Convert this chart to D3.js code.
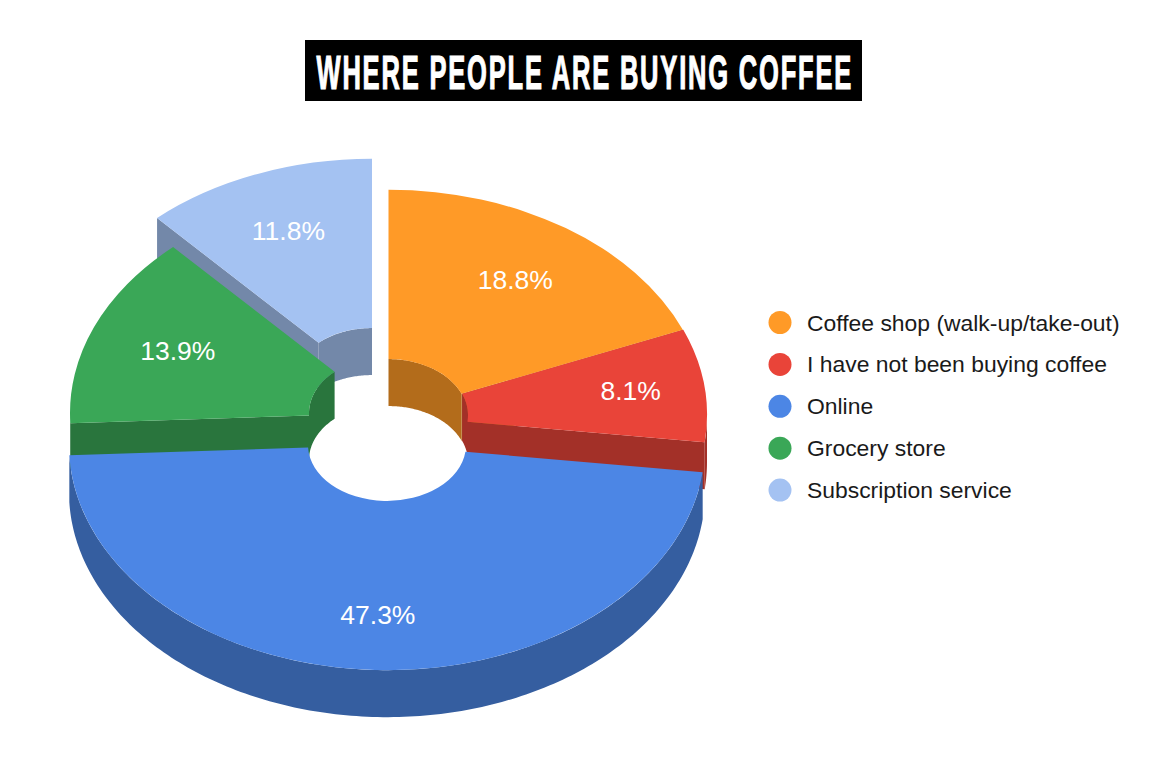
<!DOCTYPE html>
<html>
<head>
<meta charset="utf-8">
<script src="https://cdn.jsdelivr.net/npm/d3@7"></script>
<style>
  html, body { margin: 0; padding: 0; background: #fff; }
  text { font-family: "Liberation Sans", Arial, sans-serif; }
</style>
</head>
<body>
<div id="chart"></div>
<script>
var titleText = "WHERE PEOPLE ARE BUYING COFFEE";
var categories = ["Coffee shop (walk-up/take-out)", "I have not been buying coffee", "Online", "Grocery store", "Subscription service"];
var shares = [18.8, 8.1, 47.3, 13.9, 11.8];
var colors = ["#ff9a27", "#e94439", "#4c86e5", "#3aa757", "#a4c2f2"];

// each slice was pulled away by hand in the original, so each has its own shift
var shiftX = [1.5, 2, 0, 1, -15];
var shiftY = [-30, -30, 0, -32, -61];
var labelRadius = [0.715, 0.767, 0.76, 0.715, 0.725];
var drawOrder = [4, 3, 0, 1, 2]; // back to front

var width = 1170, height = 780;
var cx = 387, cy = 445;
var outerX = 318, innerX = 79;
var tilt = 0.708;
var depth = 47;
var TAU = Math.PI * 2;

var svg = d3.select("#chart").append("svg")
    .attr("width", width)
    .attr("height", height);

// Title
svg.append("rect")
    .attr("x", 305).attr("y", 40)
    .attr("width", 557).attr("height", 61)
    .attr("fill", "#000");

var title = svg.append("text")
    .attr("fill", "#fff")
    .attr("stroke", "#fff")
    .attr("stroke-width", 1.2)
    .style("font-family", "'Liberation Sans Narrow', 'Liberation Sans', sans-serif")
    .style("font-weight", "bold")
    .style("font-size", "49px")
    .style("letter-spacing", "3.5px")
    .text(titleText);

// squeeze the title to the width of its box
var titleScale = 535 / (title.node().getComputedTextLength() - 3.5);
title.attr("transform", `translate(316.5,89) scale(${titleScale},1)`);

// Angles
var pie = d3.pie().sort(null).value(d => d);
var arcs = pie(shares);

var topArc = d3.arc()
    .innerRadius(innerX)
    .outerRadius(outerX);

var line = d3.line();

// point on the ellipse of radius r, angle clockwise from 12 o'clock
function pt(a, r, y0) {
    return [r * Math.sin(a), y0 - r * tilt * Math.cos(a)];
}

// curved band between two angles
function band(a0, a1, r) {
    var n = Math.max(2, Math.ceil((a1 - a0) * 60));
    var angles = d3.range(n + 1).map(k => a0 + (a1 - a0) * k / n);
    var upper = angles.map(a => pt(a, r, 0));
    var lower = angles.slice().reverse().map(a => pt(a, r, depth));
    return line(upper.concat(lower)) + "Z";
}

// flat wall along a cut edge
function cut(a) {
    return line([pt(a, innerX, 0), pt(a, outerX, 0), pt(a, outerX, depth), pt(a, innerX, depth)]) + "Z";
}

drawOrder.forEach(function(i) {
    var d = arcs[i];
    var a0 = d.startAngle, a1 = d.endAngle;
    var side = d3.color(colors[i]).darker(1).formatHex();
    var g = svg.append("g")
        .attr("transform", `translate(${cx + shiftX[i]},${cy + shiftY[i]})`);

    // cut edges only show when they face the viewer
    if (Math.sin(a0) < -1e-6) g.append("path").attr("d", cut(a0)).attr("fill", side);
    if (Math.sin(a1) > 1e-6) g.append("path").attr("d", cut(a1)).attr("fill", side);

    // inner wall shows on the far half of the hole
    [[0, Math.PI / 2], [Math.PI * 1.5, TAU]].forEach(function(range) {
        var lo = Math.max(a0, range[0]), hi = Math.min(a1, range[1]);
        if (hi > lo) g.append("path").attr("d", band(lo, hi, innerX)).attr("fill", side);
    });

    // outer wall shows on the near half
    var lo = Math.max(a0, Math.PI / 2), hi = Math.min(a1, Math.PI * 1.5);
    if (hi > lo) g.append("path").attr("d", band(lo, hi, outerX)).attr("fill", side);

    g.append("path")
        .attr("transform", `scale(1,${tilt})`)
        .attr("d", topArc(d))
        .attr("fill", colors[i]);
});

// Percent labels
arcs.forEach(function(d, i) {
    var mid = (d.startAngle + d.endAngle) / 2;
    var p = pt(mid, outerX * labelRadius[i], 0);
    svg.append("text")
        .attr("x", cx + shiftX[i] + p[0])
        .attr("y", cy + shiftY[i] + p[1])
        .attr("dy", "0.3em")
        .attr("text-anchor", "middle")
        .attr("fill", "#fff")
        .style("font-size", "26.5px")
        .text(d3.format(".1f")(d.data) + "%");
});

// Legend
var legend = svg.selectAll(".legend-item")
    .data(categories)
    .enter()
    .append("g")
    .attr("class", "legend-item")
    .attr("transform", (d, i) => `translate(780,${322.5 + i * 41.9})`);

legend.append("circle")
    .attr("r", 11.5)
    .attr("fill", (d, i) => colors[i]);

legend.append("text")
    .attr("x", 27)
    .attr("dy", "0.35em")
    .attr("fill", "#1a1a1a")
    .style("font-size", "22.9px")
    .text(d => d);
</script>
</body>
</html>
